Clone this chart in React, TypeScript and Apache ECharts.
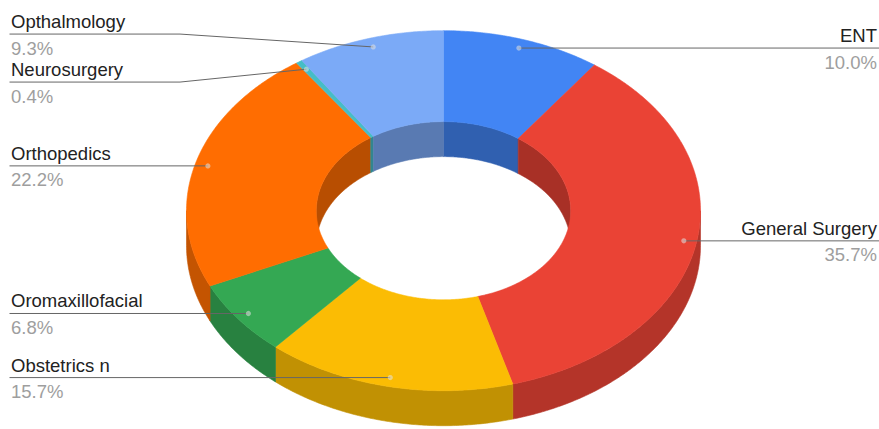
import React, { useEffect, useRef } from "react";
import * as echarts from "echarts";

const categories = [
  "ENT",
  "General Surgery",
  "Obstetrics n",
  "Oromaxillofacial",
  "Orthopedics",
  "Neurosurgery",
  "Opthalmology",
];
const values = [10.0, 35.7, 15.7, 6.8, 22.2, 0.4, 9.3];
const colors = ["#4285F4", "#EA4335", "#FBBC04", "#34A853", "#FF6D01", "#46BDC6", "#7BAAF7"];

// geometry (layout, not data)
const CX = 443.5;
const CY = 210.7;
const RX = 257;
const RY = 180;
const HOLE = 0.495;
const DEPTH = 35;
const ANCHOR_R = 0.95;
const LABEL_GAP = 48;
const FONT = "'Liberation Sans', Arial, sans-serif";
const FS = 18.5;

function darken(hex: string, f: number) {
  const n = parseInt(hex.slice(1), 16);
  const r = Math.round(((n >> 16) & 255) * f);
  const g = Math.round(((n >> 8) & 255) * f);
  const b = Math.round((n & 255) * f);
  return `rgb(${r},${g},${b})`;
}

function pt(theta: number, rx: number, ry: number, dy = 0): number[] {
  const t = (theta * Math.PI) / 180;
  return [CX + rx * Math.sin(t), CY - ry * Math.cos(t) + dy];
}

function arc(a: number, b: number, rx: number, ry: number, dy = 0): number[][] {
  const pts: number[][] = [];
  const n = Math.max(2, Math.ceil(Math.abs(b - a) / 0.5));
  for (let i = 0; i <= n; i++) {
    pts.push(pt(a + ((b - a) * i) / n, rx, ry, dy));
  }
  return pts;
}

const total = values.reduce((s, v) => s + v, 0);
const slices = (() => {
  let acc = 0;
  return values.map((v, i) => {
    const a = (acc / total) * 360;
    acc += v;
    const b = (acc / total) * 360;
    const m = (a + b) / 2;
    const anchor = pt(m, RX * ANCHOR_R, RY * ANCHOR_R);
    return {
      name: categories[i],
      pct: ((v / total) * 100).toFixed(1) + "%",
      a,
      b,
      m,
      anchor,
      side: Math.sin((m * Math.PI) / 180) < 0 ? "left" : "right",
      ly: anchor[1],
    };
  });
})();

// resolve label overlaps per side
(["left", "right"] as const).forEach((side) => {
  const items = slices.filter((s) => s.side === side).sort((p, q) => p.anchor[1] - q.anchor[1]);
  const clusters: { items: typeof items }[] = [];
  const place = (c: { items: typeof items }) => {
    const mean = c.items.reduce((s, it) => s + it.anchor[1], 0) / c.items.length;
    const n = c.items.length;
    c.items.forEach((it, k) => {
      it.ly = mean + (k - (n - 1) / 2) * LABEL_GAP;
    });
  };
  items.forEach((it) => {
    const c = { items: [it] };
    place(c);
    clusters.push(c);
    while (clusters.length > 1) {
      const last = clusters[clusters.length - 1];
      const prev = clusters[clusters.length - 2];
      const lastTop = last.items[0].ly;
      const prevBottom = prev.items[prev.items.length - 1].ly;
      if (lastTop - prevBottom < LABEL_GAP) {
        clusters.pop();
        clusters.pop();
        const merged = { items: [...prev.items, ...last.items] };
        place(merged);
        clusters.push(merged);
      } else break;
    }
  });
});

export default function App() {
  const ref = useRef<HTMLDivElement>(null);
  useEffect(() => {
    if (!ref.current) return;
    const chart = echarts.init(ref.current, undefined, { renderer: "svg" });
    chart.setOption({
      animation: false,
      backgroundColor: "#ffffff",
      series: [
        {
          type: "custom",
          coordinateSystem: "none",
          silent: true,
          data: values.map((v, i) => ({ name: categories[i], value: v })),
          renderItem: (params: any) => {
            const i = params.dataIndex;
            const s = slices[i];
            const col = colors[i];
            const outerSide = darken(col, 0.77);
            const innerSide = darken(col, 0.72);
            const children: any[] = [];
            // top face
            const top = [...arc(s.a, s.b, RX, RY), ...arc(s.b, s.a, RX * HOLE, RY * HOLE)];
            children.push({
              type: "polygon",
              z2: 10,
              shape: { points: top },
              style: { fill: col, stroke: col, lineWidth: 0.6 },
            });
            // outer side (near half 90..270)
            const lo = Math.max(s.a, 90);
            const hi = Math.min(s.b, 270);
            if (hi > lo) {
              children.push({
                type: "polygon",
                z2: 2,
                shape: { points: [...arc(lo, hi, RX, RY), ...arc(hi, lo, RX, RY, DEPTH)] },
                style: { fill: outerSide, stroke: outerSide, lineWidth: 0.6 },
              });
            }
            // inner wall (far half: 0..90 and 270..360)
            const ranges = [
              [Math.max(s.a, 0), Math.min(s.b, 90)],
              [Math.max(s.a, 270), Math.min(s.b, 360)],
            ];
            ranges.forEach(([l, h]) => {
              if (h > l) {
                children.push({
                  type: "polygon",
                  z2: 2,
                  shape: {
                    points: [
                      ...arc(l, h, RX * HOLE, RY * HOLE),
                      ...arc(h, l, RX * HOLE, RY * HOLE, DEPTH),
                    ],
                  },
                  style: { fill: innerSide, stroke: innerSide, lineWidth: 0.6 },
                });
              }
            });
            // label
            const [ax, ay] = s.anchor;
            const ly = s.ly;
            let linePts: number[][];
            if (s.side === "left") {
              linePts = ax > 180 ? [[9.5, ly], [180, ly], [ax, ay]] : [[9.5, ly], [ax, ay]];
            } else {
              linePts = ax < 700 ? [[879, ly], [700, ly], [ax, ay]] : [[879, ly], [ax, ay]];
            }
            children.push({
              type: "polyline",
              z2: 20,
              shape: { points: linePts },
              style: { stroke: "#666666", lineWidth: 1, fill: null },
            });
            children.push({
              type: "circle",
              z2: 21,
              shape: { cx: ax, cy: ay, r: 2.6 },
              style: { fill: "rgba(225,225,225,0.55)" },
            });
            const tx = s.side === "left" ? 11 : 877;
            const align = s.side === "left" ? "left" : "right";
            children.push({
              type: "text",
              z2: 22,
              style: {
                text: s.name,
                x: tx,
                y: ly - 12.5,
                fill: "#222222",
                fontSize: FS,
                fontFamily: FONT,
                align,
                verticalAlign: "middle",
              },
            });
            children.push({
              type: "text",
              z2: 22,
              style: {
                text: s.pct,
                x: tx,
                y: ly + 14,
                fill: "#9e9e9e",
                fontSize: FS,
                fontFamily: FONT,
                align,
                verticalAlign: "middle",
              },
            });
            return { type: "group", children };
          },
        },
      ],
    });
    return () => chart.dispose();
  }, []);
  return (
    <div
      ref={ref}
      style={{ position: "fixed", left: 0, top: 0, width: 879, height: 429, background: "#fff" }}
    />
  );
}
